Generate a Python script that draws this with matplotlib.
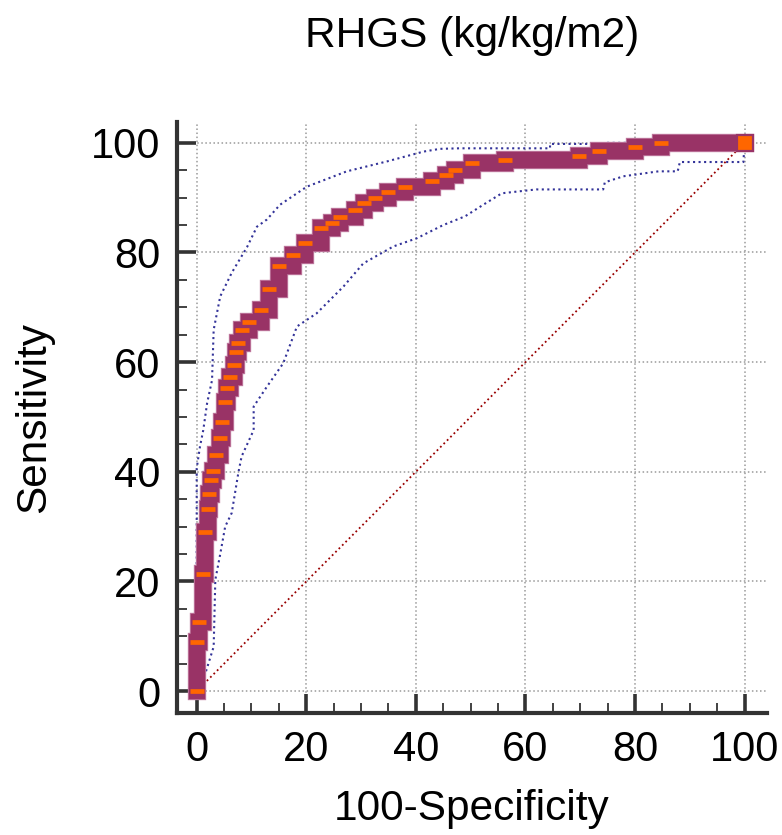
import numpy as np
import matplotlib.pyplot as plt
from matplotlib.ticker import MultipleLocator

plt.rcParams['font.family'] = ['Liberation Sans', 'DejaVu Sans']

# ROC curve corners (100-Specificity, Sensitivity), drawn as steps
roc_fpr = [0, 0, 0.5, 1.1, 1.5, 2.0, 2.3, 2.7, 3.0, 3.6, 4.3, 4.6, 5.1, 5.5, 6.0,
           6.9, 7.1, 7.5, 8.3, 9.5, 11.8, 13.2, 15.0, 17.5, 19.8, 22.7, 24.7, 26.2,
           28.9, 30.5, 32.5, 35.0, 38.0, 43.0, 45.5, 47.2, 50.3, 56.3, 69.7, 73.4,
           80.0, 84.8, 100]
roc_tpr = [0, 8.9, 12.6, 21.3, 29.0, 33.3, 36.0, 38.5, 40.1, 43.0, 46.2, 49.0, 52.7,
           55.2, 57.3, 59.5, 61.9, 63.4, 65.9, 67.3, 69.5, 73.4, 77.6, 79.5, 81.8,
           84.4, 85.3, 86.4, 87.8, 89.0, 89.9, 91.0, 92.0, 93.1, 94.1, 95.0, 96.4,
           96.8, 97.6, 98.5, 99.2, 100, 100]

# confidence bounds
upper_x = [0, 0, 0.6, 1.2, 1.9, 2.8, 3.1, 4.3, 6.4, 9.2, 11.0, 12.8, 15.2, 20.1,
           27.4, 34.7, 41.4, 44.4, 48.0, 64.5, 64.5, 73.5, 75.0, 100]
upper_y = [0, 40.6, 44.6, 47.6, 52.5, 56.7, 65.9, 72.0, 76.3, 81.0, 84.7, 86.0, 88.7,
           92.0, 94.8, 96.6, 98.4, 98.9, 99.0, 99.0, 99.8, 99.8, 100, 100]
lower_x = [0, 1.2, 3.1, 3.4, 4.3, 5.2, 6.4, 7.6, 8.2, 10.4, 10.4, 12.8, 15.8, 18.3,
           21.9, 26.8, 30.4, 35.9, 40.2, 45.0, 49.0, 52.3, 55.7, 62.0, 74.2, 74.5,
           77.9, 84.3, 87.8, 88.2, 99.8, 100]
lower_y = [0, 2.0, 8.1, 20.3, 25.0, 30.0, 32.5, 39.8, 42.8, 47.6, 51.9, 55.5, 59.8,
           66.5, 68.9, 73.8, 78.0, 81.1, 82.6, 85.0, 86.6, 88.7, 90.8, 91.5, 91.5,
           92.8, 93.9, 94.8, 94.8, 96.5, 96.5, 100]

ticks = [0, 20, 40, 60, 80, 100]

fig = plt.figure(figsize=(7.82, 8.35), dpi=100)
ax = fig.add_axes([0.2263, 0.1461, 0.7545, 0.7078])

ax.grid(True, which='major', linestyle=':', color='#9a9a9a', linewidth=1.1)
ax.set_axisbelow(True)

ax.plot([0, 100], [0, 100], linestyle=':', color='#990000', linewidth=1.3)
ax.plot(upper_x, upper_y, linestyle=':', color='#333399', linewidth=1.5)
ax.plot(lower_x, lower_y, linestyle=':', color='#333399', linewidth=1.5)

# thick step band with a light rim, then orange stripes at each point
ax.plot(roc_fpr, roc_tpr, drawstyle='steps-post', color='#c07aa0', linewidth=13.2,
        solid_joinstyle='miter', solid_capstyle='projecting')
ax.plot(roc_fpr, roc_tpr, drawstyle='steps-post', color='#993366', linewidth=11.8,
        solid_joinstyle='miter', solid_capstyle='projecting')
ax.plot(roc_fpr[:-1], roc_tpr[:-1], linestyle='none', marker='_', markersize=9.5,
        markeredgecolor='#ff6600', markeredgewidth=3.4)
ax.plot(roc_fpr[-1:], roc_tpr[-1:], linestyle='none', marker='s', markersize=11.5,
        markerfacecolor='#ff6600', markeredgecolor='#993366', markeredgewidth=1.6)

ax.set_xlim(-3.6, 104.1)
ax.set_ylim(-4.0, 103.8)
ax.set_xticks(ticks)
ax.set_yticks(ticks)
ax.xaxis.set_minor_locator(MultipleLocator(5))
ax.yaxis.set_minor_locator(MultipleLocator(5))

for s in ['top', 'right']:
    ax.spines[s].set_visible(False)
for s in ['left', 'bottom']:
    ax.spines[s].set_color('#333333')
    ax.spines[s].set_linewidth(3)

ax.tick_params(which='major', direction='in', length=14, width=2.6, color='#333333',
               labelsize=30, pad=12)
ax.tick_params(which='minor', direction='in', length=7, width=1.3, color='#333333')

fig.text(0.6036, 1 - 47 / 835, 'RHGS (kg/kg/m2)', ha='center', va='baseline', fontsize=30.5)
fig.text(0.6036, 1 - 820 / 835, '100-Specificity', ha='center', va='baseline', fontsize=30.5)
fig.text(34 / 782, 0.5, 'Sensitivity', rotation=90, ha='center', va='center', fontsize=30.5)

fig.savefig('out.png', dpi=100)
